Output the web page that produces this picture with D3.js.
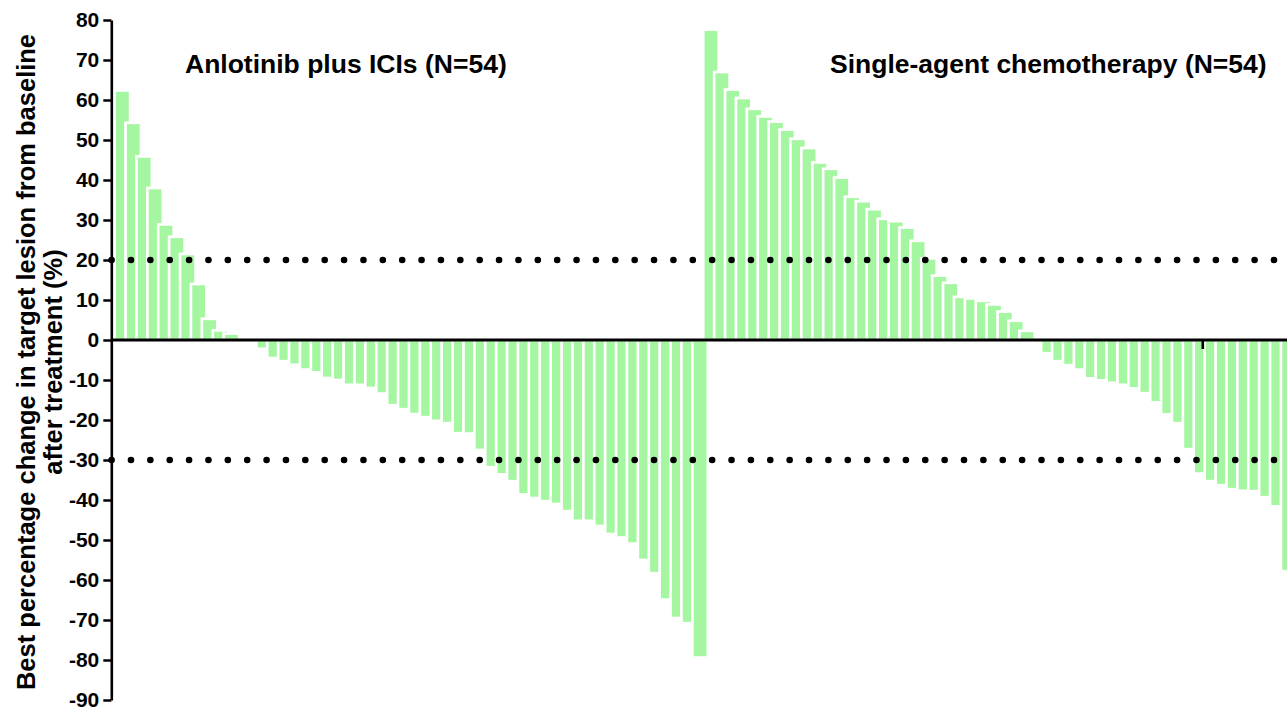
<!DOCTYPE html>
<html>
<head>
<meta charset="utf-8">
<script src="https://cdn.jsdelivr.net/npm/d3@7"></script>
<style>
  html, body { margin: 0; padding: 0; background: #fff; }
  svg { display: block; }
  text { font-family: "Liberation Sans", Arial, Helvetica, sans-serif; font-weight: bold; fill: #000; }
</style>
</head>
<body>
<svg id="chart" width="1287" height="709"></svg>
<script>
// Best percentage change per patient, sorted (waterfall order)
const anlotinibICIs = [
  62.4, 54.3, 45.9, 38.0, 28.9, 25.8, 21.5, 14.0, 5.3, 2.4, 1.6,
  0, 0,
  -2.2, -4.5, -5.3, -6.2, -7.4, -8.1, -9.5, -10.0, -11.2, -11.2,
  -12.0, -13.4, -16.3, -17.3, -18.5, -19.3, -20.2, -20.8, -23.3, -23.4,
  -27.5, -31.8, -33.6, -35.3, -38.6, -39.5, -40.3, -41.0, -42.8, -45.2,
  -45.2, -46.5, -48.5, -49.4, -50.9, -55.0, -58.3, -64.9, -69.5, -70.8,
  -79.4
];
const chemotherapy = [
  77.6, 67.0, 62.6, 60.5, 57.8, 55.9, 54.6, 52.6, 50.3, 48.0,
  44.4, 42.8, 40.6, 35.8, 34.7, 32.7, 30.3, 29.7, 28.1, 24.8,
  20.4, 16.1, 14.3, 10.8, 10.4, 9.8, 8.9, 7.1, 4.8, 2.3,
  0,
  -3.3, -5.3, -6.3, -7.4, -9.6, -10.1, -10.7, -11.2, -12.1, -13.3,
  -15.6, -18.6, -20.8, -27.3, -33.4, -35.3, -36.3, -37.3, -37.7, -37.8,
  -39.3, -41.6, -57.8
];
const groupTitles = ["Anlotinib plus ICIs (N=54)", "Single-agent chemotherapy (N=54)"];
const yTicks = [80, 70, 60, 50, 40, 30, 20, 10, 0, -10, -20, -30, -40, -50, -60, -70, -80, -90];
const thresholds = [20, -30];          // progression / response cut-offs
const xAxisTickIndex = [99];          // single tick mark on the baseline
const yTitle = ["Best percentage change in target lesion from baseline", "after treatment (%)"];

const values = anlotinibICIs.concat(chemotherapy);

const svg = d3.select("#chart");
const W = 1287;
const axisX = 111.3;

const y = d3.scaleLinear().domain([-90, 80]).range([700, 20]);
const x = d3.scaleBand()
  .domain(d3.range(values.length))
  .range([114.65, 114.65 + values.length * 10.9])
  .paddingInner(0).paddingOuter(0);
const barW = x.bandwidth() * 1.42;

// bars: drawn in order, white outline, each overlapping its left neighbour
svg.append("g")
  .selectAll("rect")
  .data(values)
  .join("rect")
  .attr("x", (d, i) => x(i))
  .attr("y", d => y(Math.max(0, d)))
  .attr("width", barW)
  .attr("height", d => Math.abs(y(d) - y(0)))
  .attr("fill", "#a4f6a0")
  .attr("stroke", "#ffffff")
  .attr("stroke-width", 2.7);

// dotted threshold lines
const dotGap = 19.373;
svg.append("g")
  .selectAll("line")
  .data(thresholds)
  .join("line")
  .attr("x1", axisX + 0.3)
  .attr("x2", axisX + 0.3 + dotGap * 60 + 1)
  .attr("y1", d => y(d))
  .attr("y2", d => y(d))
  .attr("stroke", "#000")
  .attr("stroke-width", 6.6)
  .attr("stroke-linecap", "round")
  .attr("stroke-dasharray", `0 ${dotGap}`);

// baseline (x axis) and its tick
svg.append("line")
  .attr("x1", axisX).attr("x2", W)
  .attr("y1", y(0)).attr("y2", y(0))
  .attr("stroke", "#000").attr("stroke-width", 2.8);
svg.append("g")
  .selectAll("line")
  .data(xAxisTickIndex)
  .join("line")
  .attr("x1", i => x(i) + barW / 2 + 1.3)
  .attr("x2", i => x(i) + barW / 2 + 1.3)
  .attr("y1", y(0))
  .attr("y2", y(0) + 9)
  .attr("stroke", "#000")
  .attr("stroke-width", 2.6);

// y axis (plain hyphen for negative labels)
const yAxis = d3.axisLeft(y)
  .tickValues(yTicks)
  .tickSize(8)
  .tickSizeOuter(0)
  .tickPadding(4)
  .tickFormat(d => String(d));
const gY = svg.append("g")
  .attr("transform", `translate(${axisX},0)`)
  .call(yAxis);
gY.select(".domain").attr("stroke", "#000").attr("stroke-width", 2.6);
gY.selectAll(".tick line").attr("stroke", "#000").attr("stroke-width", 2.5);
gY.selectAll(".tick text")
  .attr("font-family", "'Liberation Sans', Arial, sans-serif")
  .attr("font-weight", "bold")
  .attr("font-size", 21)
  .attr("fill", "#000");

// y axis title (two lines)
const yt = svg.append("text")
  .attr("transform", "translate(0,362) rotate(-90)")
  .attr("text-anchor", "middle")
  .attr("font-size", 25.5);
yt.selectAll("tspan")
  .data(yTitle)
  .join("tspan")
  .attr("x", 0)
  .attr("y", (d, i) => 35 + i * 26.5)
  .text(d => d);

// group titles
const titleX = [185, 830];
svg.append("g")
  .selectAll("text")
  .data(groupTitles)
  .join("text")
  .attr("x", (d, i) => titleX[i])
  .attr("y", 73)
  .attr("font-size", 26.5)
  .text(d => d);
</script>
</body>
</html>
